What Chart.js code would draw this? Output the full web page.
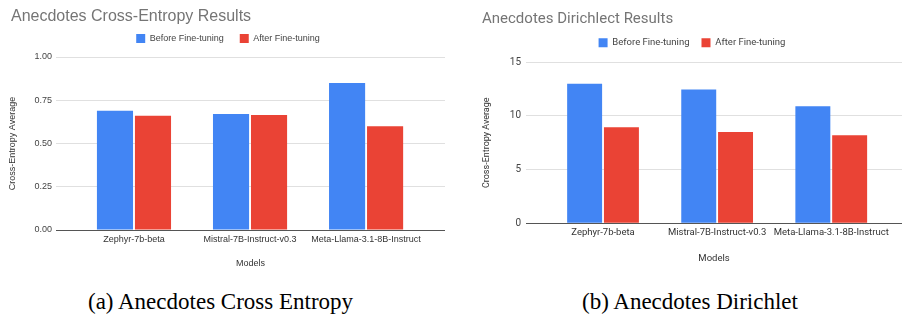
<!DOCTYPE html>
<html lang="en">
<head>
<meta charset="UTF-8">
<title>Anecdotes Results</title>
<script src="https://cdn.jsdelivr.net/npm/chart.js"></script>
<style>
  body { margin: 0; background: #fff; }
  .wrap { position: relative; width: 902px; height: 316px; overflow: hidden; background: #fff; }
  canvas { position: absolute; top: 0; }
  #ceChart { left: 0; }
  #dirChart { left: 450px; }
  .caption {
    position: absolute; top: 290px;
    font-family: 'Liberation Serif', 'DejaVu Serif', serif;
    font-size: 23px; line-height: 23px; color: #000; white-space: nowrap;
  }
</style>
</head>
<body>
<div class="wrap">
  <canvas id="ceChart" width="450" height="280"></canvas>
  <canvas id="dirChart" width="452" height="280"></canvas>
  <div class="caption" style="left:88px">(a) Anecdotes Cross Entropy</div>
  <div class="caption" style="left:582px">(b) Anecdotes Dirichlet</div>
</div>
<script>
// data
const models = ['Zephyr-7b-beta', 'Mistral-7B-Instruct-v0.3', 'Meta-Llama-3.1-8B-Instruct'];
const seriesNames = ['Before Fine-tuning', 'After Fine-tuning'];

const ceBefore = [0.69, 0.67, 0.85];
const ceAfter = [0.66, 0.665, 0.60];
const ceTicks = [0, 0.25, 0.5, 0.75, 1];

const dirBefore = [13.0, 12.45, 10.9];
const dirAfter = [8.95, 8.5, 8.2];
const dirTicks = [0, 5, 10, 15];

const BLUE = '#4285f4';
const RED = '#ea4335';

function points(values) {
    return values.map((v, i) => ({ x: i, y: v }));
}

function buildChart(id, c) {
    const font = (size) => ({ family: c.family, size: size, weight: 'normal' });
    return new Chart(document.getElementById(id), {
        type: 'bar',
        data: {
            datasets: [
                { label: seriesNames[0], data: points(c.before), backgroundColor: BLUE,
                  categoryPercentage: c.catPct, barPercentage: 0.95 },
                { label: seriesNames[1], data: points(c.after), backgroundColor: RED,
                  categoryPercentage: c.catPct, barPercentage: 0.95 }
            ]
        },
        options: {
            responsive: false,
            animation: false,
            layout: { padding: c.pad },
            plugins: {
                title: {
                    display: true, text: c.title, align: 'start', color: '#757575',
                    font: font(c.titleSize), padding: c.titlePad
                },
                legend: {
                    labels: { boxWidth: 9, boxHeight: 9, padding: c.legendPad, color: '#444', font: font(c.legendSize) }
                },
                tooltip: { enabled: false }
            },
            scales: {
                x: {
                    type: 'linear', min: c.xMin, max: c.xMax, offset: false,
                    afterBuildTicks: s => { s.ticks = models.map((m, i) => ({ value: i })); },
                    afterFit: s => { s.height = c.xHeight; },
                    ticks: {
                        callback: v => models[v], autoSkip: false, maxRotation: 0,
                        padding: c.xTickPad, color: '#333', font: font(c.catSize)
                    },
                    grid: { display: false, drawTicks: false, offset: false },
                    border: { display: false },
                    title: {
                        display: true, text: 'Models', color: '#333', font: font(c.catSize),
                        padding: { top: 0, bottom: c.xTitleBottom }
                    }
                },
                // empty strip between the legend and the plot
                gap: {
                    type: 'linear', position: 'top',
                    afterFit: s => { s.height = c.gap; },
                    ticks: { display: false },
                    grid: { display: false, drawTicks: false },
                    border: { display: false }
                },
                y: {
                    min: 0, max: c.ticks[c.ticks.length - 1],
                    afterBuildTicks: s => { s.ticks = c.ticks.map(v => ({ value: v })); },
                    afterFit: s => { s.width = c.yWidth; },
                    ticks: { callback: c.fmt, padding: c.yTickPad, color: '#444', font: font(c.tickSize) },
                    grid: {
                        drawTicks: false,
                        color: ctx => ctx.tick.value === 0 ? '#555' : '#e0e0e0'
                    },
                    border: { display: false },
                    title: {
                        display: true, text: 'Cross-Entropy Average', color: '#333', font: font(9),
                        padding: { top: c.yTitleTop, bottom: 0 }
                    }
                }
            }
        }
    });
}

// (a) cross entropy
buildChart('ceChart', {
    family: "Arial, 'Liberation Sans', sans-serif",
    title: 'Anecdotes Cross-Entropy Results', titleSize: 16,
    before: ceBefore, after: ceAfter, ticks: ceTicks,
    fmt: v => v.toFixed(2),
    pad: { left: 11, right: 5, top: 0, bottom: 0 },
    titlePad: { top: 7, bottom: -8.2 },
    legendPad: 16, legendSize: 9, gap: 4,
    catPct: 0.655, xMin: -0.672, xMax: 2.68,
    xHeight: 50, xTickPad: 4, xTitleBottom: 11, catSize: 9,
    yWidth: 45, yTickPad: 4, tickSize: 9, yTitleTop: -3.4
});

// (b) dirichlet
buildChart('dirChart', {
    family: "Roboto, 'Liberation Sans', sans-serif",
    title: 'Anecdotes Dirichlect Results', titleSize: 15,
    before: dirBefore, after: dirAfter, ticks: dirTicks,
    fmt: v => String(v),
    pad: { left: 32, right: 0, top: 0, bottom: 0 },
    titlePad: { top: 10.5, bottom: -2.5 },
    legendPad: 12, legendSize: 9.5, gap: 4.7,
    catPct: 0.645, xMin: -0.675, xMax: 2.62,
    xHeight: 56.7, xTickPad: 4, xTitleBottom: 16, catSize: 9.5,
    yWidth: 44, yTickPad: 5, tickSize: 10, yTitleTop: -0.7
});
</script>
</body>
</html>
